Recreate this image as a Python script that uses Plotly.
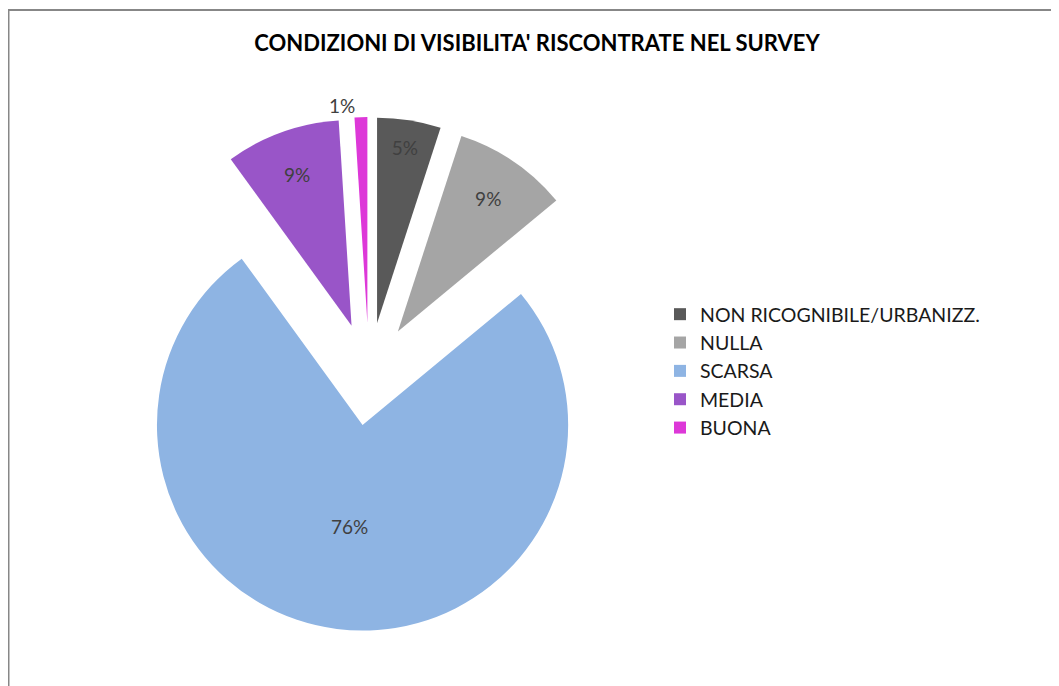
import plotly.graph_objects as go

categories = ["NON RICOGNIBILE/URBANIZZ.", "NULLA", "SCARSA", "MEDIA", "BUONA"]
values = [5, 9, 76, 9, 1]
colors = ["#595959", "#A5A5A5", "#8EB4E3", "#9955C8", "#DD38D8"]
text_pos = ["inside", "inside", "inside", "inside", "outside"]

FONT = "Lato, 'Open Sans', sans-serif"
W, H = 1059, 686

fig = go.Figure(go.Pie(
    labels=categories,
    values=values,
    sort=False,
    direction="clockwise",
    rotation=0,
    pull=[0.25] * len(values),
    marker=dict(colors=colors, line=dict(width=0)),
    textinfo="percent",
    texttemplate="%{percent:.0%}",
    textposition=text_pos,
    insidetextorientation="horizontal",
    textfont=dict(family=FONT, size=19, color="#404040"),
    domain=dict(x=[102 / W, 620 / W], y=[1 - 623 / H, 1 - 109 / H]),
    showlegend=True,
))

fig.update_layout(
    width=W,
    height=H,
    margin=dict(l=0, r=0, t=0, b=0, autoexpand=False),
    paper_bgcolor="white",
    plot_bgcolor="white",
    title=dict(
        text="<b>CONDIZIONI DI VISIBILITA' RISCONTRATE NEL SURVEY</b>",
        x=529 / W, xanchor="center",
        y=1 - 35 / H, yanchor="middle",
        font=dict(family=FONT, size=22, color="#000000"),
    ),
    legend=dict(
        x=652 / W, xanchor="left",
        y=1 - 363 / H, yanchor="middle",
        font=dict(family=FONT, size=19.5, color="#1a1a1a"),
        bgcolor="rgba(0,0,0,0)",
    ),
    shapes=[dict(
        type="rect", xref="paper", yref="paper",
        x0=0.5 / W, x1=1.2, y0=-0.2, y1=1 - 2 / H,
        line=dict(color="#878787", width=2),
        fillcolor="rgba(0,0,0,0)", layer="below",
    )],
)

fig.write_html("out.html")
